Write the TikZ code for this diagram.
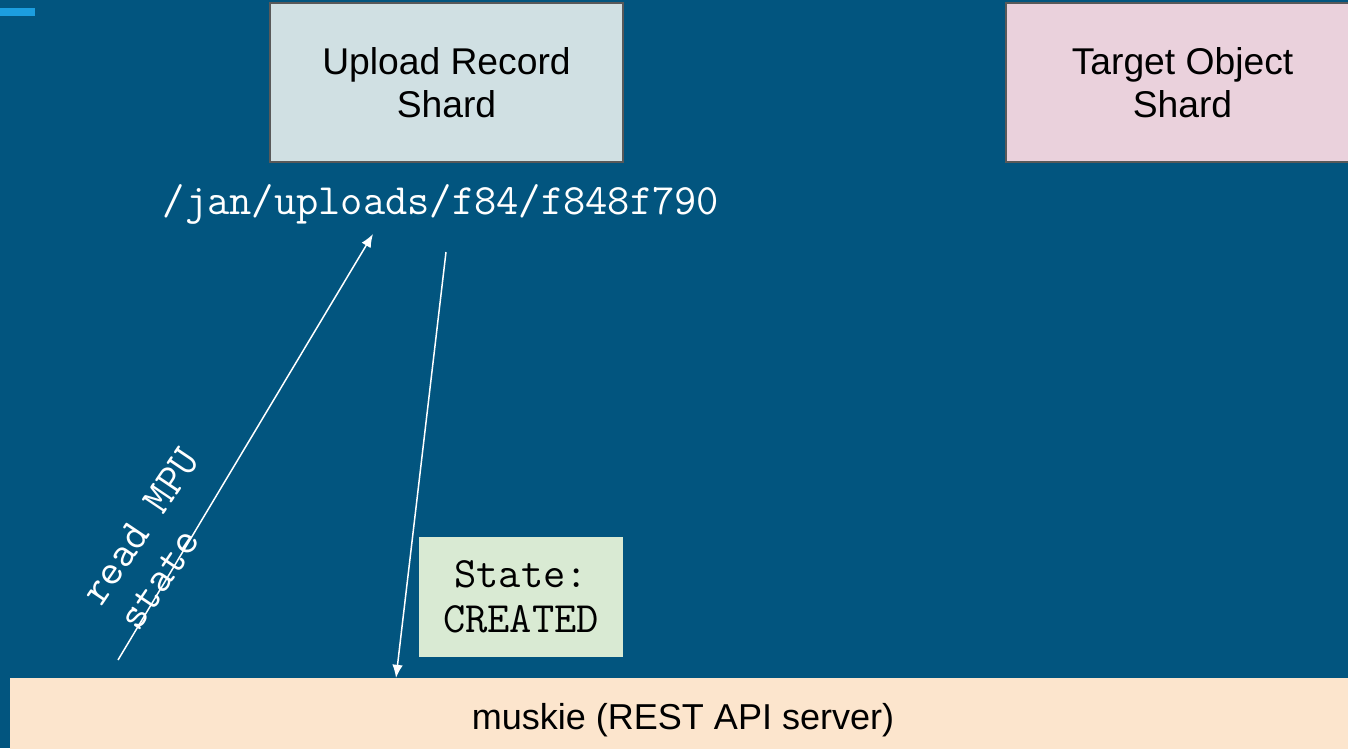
\documentclass[tikz,border=0pt]{standalone}
\usepackage{fontspec}
\setmainfont{Liberation Sans}
\usepackage{xcolor}
\usetikzlibrary{arrows.meta}

\definecolor{slidebg}{HTML}{02557F}
\definecolor{accentbar}{HTML}{1C9EDF}
\definecolor{uploadfill}{HTML}{D0E0E3}
\definecolor{targetfill}{HTML}{EAD1DC}
\definecolor{statefill}{HTML}{D9EAD3}
\definecolor{serverfill}{HTML}{FCE5CD}
\definecolor{shardline}{HTML}{595959}

\begin{document}
\begin{tikzpicture}[x=0.02cm, y=-0.02cm]
		\tikzset{
			shard/.style={rectangle, draw=shardline, line width=1.1pt, align=center, font=\fontsize{21.2}{24.8}\selectfont,
			minimum width=7.06cm, minimum height=3.18cm, inner sep=0pt},
			monotext/.style={align=center, font=\ttfamily\fontsize{24.6}{25.6}\selectfont, inner sep=0pt},
			call/.style={draw=white, line width=0.85pt, -{Latex[length=7.5pt, width=6pt]}}
		}
		\fill[slidebg] (0,0) rectangle (1348,748);
		\useasboundingbox (0,0) rectangle (1348,748);
		\fill[accentbar] (0,8) rectangle (35,16);

		\node[shard, fill=uploadfill](upload) at (446.5,82.5){Upload Record\\Shard};
		\node[shard, fill=targetfill](target) at (1182.5,82.5){Target Object\\Shard};
		\node[monotext, text=white](path) at (441,204){/jan/uploads/f84/f848f790};
		\node[monotext, fill=statefill, minimum width=4.08cm, minimum height=2.4cm](state) at (521,597){State:\\CREATED};
		\node[rectangle, fill=serverfill, minimum width=26.92cm, minimum height=1.68cm, inner sep=0pt,
			font=\fontsize{20.5}{24.5}\selectfont](muskie) at (683,720){muskie (REST API server)};

		\coordinate (readfrom) at (118,660);
		\coordinate (readto) at (373,234);
		\coordinate (replyfrom) at (446,252);
		\coordinate (replyto) at (396,678);

		\draw[call](readfrom) -- (readto);
		\draw[call](replyfrom) -- (replyto);
		\node[monotext, align=left, text=white, rotate=56](readlabel) at (159,539){read MPU\\state};

	\end{tikzpicture}
\end{document}
